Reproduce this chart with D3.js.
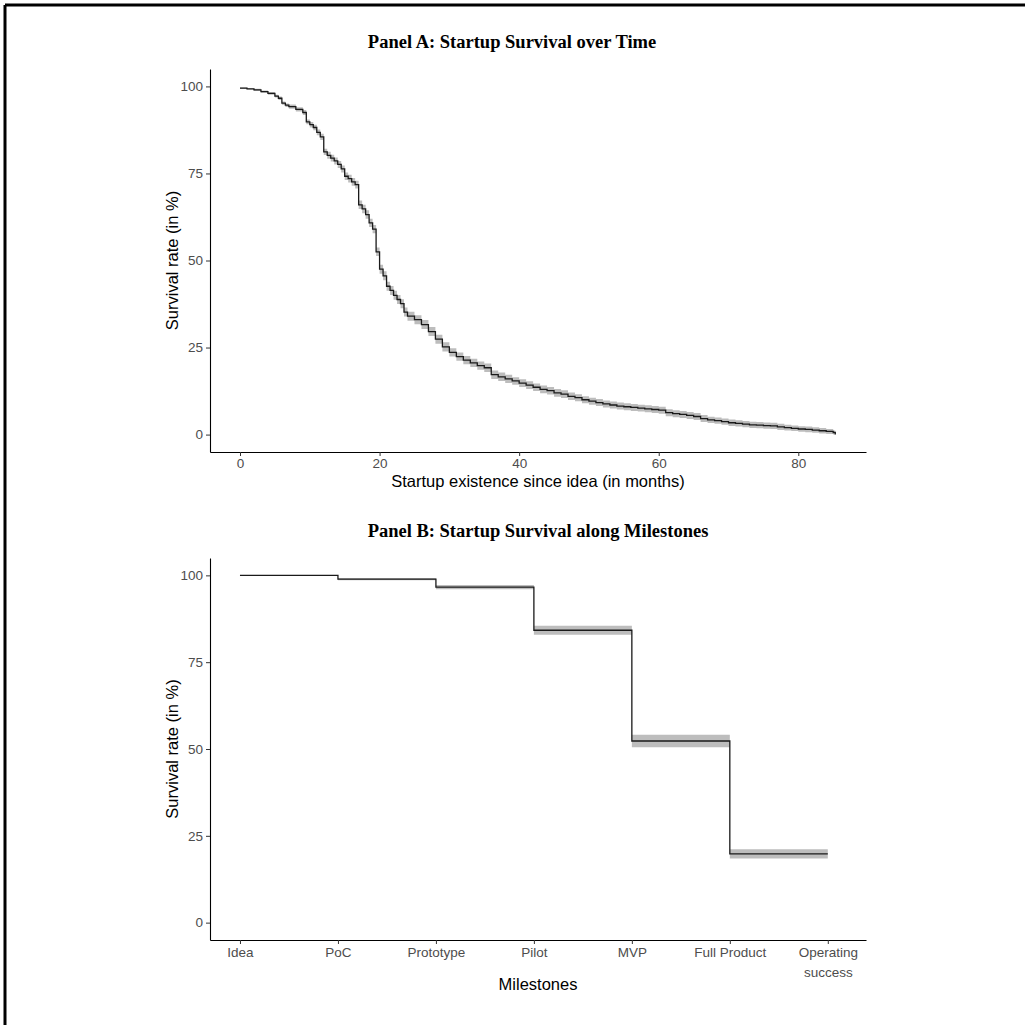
<!DOCTYPE html>
<html>
<head>
<meta charset="utf-8">
<script src="https://cdn.jsdelivr.net/npm/d3@7"></script>
<style>
  body { margin: 0; background: #fff; }
  svg { display: block; }
</style>
</head>
<body>
<svg id="chart" width="1025" height="1025"></svg>
<script>
// Panel A: survival by month since idea (Kaplan-Meier steps)
const monthTimes = [0, 1, 2, 3, 4, 5, 5.5, 6, 6.5, 7, 8, 9, 9.5, 10, 10.5, 11, 11.5, 12, 12.5, 13,
  13.5, 14, 14.5, 15, 15.5, 16, 16.5, 17, 17.5, 18, 18.5, 19, 19.5, 20, 20.5, 21, 21.5, 22, 22.5, 23,
  23.5, 24, 25, 26, 27, 28, 29, 30, 31, 32, 33, 34, 35, 36, 37, 38, 39, 40, 41, 42, 43, 44, 45, 46,
  47, 48, 49, 50, 51, 52, 53, 54, 55, 56, 57, 58, 59, 60, 61, 62, 63, 64, 65, 66, 67, 68, 69, 70,
  71, 72, 73, 74, 75, 76, 77, 78, 79, 80, 81, 82, 83, 84, 85, 85.3]
const monthSurvival = [99.5, 99.3, 99.0, 98.5, 98.0, 97.2, 96.6, 95.2, 94.6, 94.2, 93.4, 92.5, 89.8,
  89.0, 88.2, 86.8, 85.5, 81.2, 80.2, 79.4, 78.6, 77.6, 76.3, 74.2, 73.5, 72.6, 71.8, 66.0, 64.8,
  63.2, 60.8, 59.0, 52.5, 47.5, 45.6, 42.6, 41.4, 40.0, 38.8, 37.6, 35.2, 34.0, 33.0, 31.6, 29.6,
  27.4, 25.2, 23.6, 22.4, 21.4, 20.6, 19.8, 19.2, 17.2, 16.6, 16.0, 15.4, 14.8, 14.2, 13.6, 13.0,
  12.6, 12.0, 11.6, 11.0, 10.6, 10.0, 9.6, 9.2, 8.8, 8.5, 8.2, 8.0, 7.8, 7.6, 7.4, 7.2, 7.0, 6.3,
  6.0, 5.8, 5.5, 5.2, 4.6, 4.2, 4.0, 3.7, 3.4, 3.2, 3.0, 2.8, 2.7, 2.6, 2.5, 2.2, 2.0, 1.8, 1.6,
  1.5, 1.3, 1.1, 0.9, 0.6, 0.0]
const monthCiHalf = [0.2, 0.2, 0.3, 0.3, 0.4, 0.4, 0.5, 0.5, 0.5, 0.6, 0.6, 0.7, 0.7, 0.8, 0.8,
  0.8, 0.9, 0.9, 1.0, 1.0, 1.0, 1.0, 1.0, 1.1, 1.1, 1.1, 1.1, 1.2, 1.2, 1.2, 1.2, 1.2, 1.2, 1.3,
  1.3, 1.3, 1.3, 1.3, 1.3, 1.3, 1.3, 1.3, 1.3, 1.3, 1.3, 1.3, 1.3, 1.2, 1.2, 1.2, 1.2, 1.2, 1.2,
  1.2, 1.2, 1.2, 1.1, 1.1, 1.1, 1.1, 1.1, 1.1, 1.1, 1.1, 1.1, 1.0, 1.0, 1.0, 1.0, 1.0, 1.0, 1.0,
  1.0, 1.0, 1.0, 1.0, 1.0, 1.0, 1.0, 1.0, 1.0, 1.0, 1.0, 1.0, 0.9, 0.9, 0.9, 0.9, 0.9, 0.9, 0.9,
  0.9, 0.9, 0.9, 0.9, 0.8, 0.8, 0.8, 0.8, 0.8, 0.8, 0.7, 0.6, 0.5, 0.3]
const monthTicks = [0, 20, 40, 60, 80]

// Panel B: survival along milestones
const milestones = ['Idea', 'PoC', 'Prototype', 'Pilot', 'MVP', 'Full Product', 'Operating success']
const milestoneSurvival = [100, 98.9, 96.6, 84.2, 52.3, 19.8, 19.8]
const milestoneCiHalf = [0, 0.3, 0.6, 1.3, 1.8, 1.3, 1.3]

const yTicks = [0, 25, 50, 75, 100]

const svg = d3.select('#chart')
const axisFont = 'Liberation Sans, Arial, sans-serif'
const titleFont = 'Liberation Serif, DejaVu Serif, serif'
const bandFill = '#bdbdbd'

// outer frame (only left and top edges visible)
svg.append('line').attr('x1', 5).attr('x2', 5).attr('y1', 5).attr('y2', 1025)
    .attr('stroke', '#000').attr('stroke-width', 3)
svg.append('line').attr('x1', 5).attr('x2', 1025).attr('y1', 5).attr('y2', 5)
    .attr('stroke', '#000').attr('stroke-width', 3)

function styleAxis (g) {
    g.selectAll('.domain').attr('stroke', '#000').attr('stroke-width', 1.1)
    g.selectAll('.tick line').attr('stroke', '#333').attr('stroke-width', 1)
    g.selectAll('.tick text').attr('fill', '#4d4d4d')
        .style('font-family', axisFont).style('font-size', '13.5px')
}

function drawPanel (cfg) {
    const { top, bottom, left, right, x, title, titleX, xTitle, xTitleY } = cfg
    const y = d3.scaleLinear().domain([-5, 105]).range([bottom, top])

    const g = svg.append('g')

    // band
    g.append('path')
        .datum(cfg.data)
        .attr('fill', bandFill)
        .attr('d', d3.area()
            .curve(d3.curveStepAfter)
            .x(d => x(d.t))
            .y0(d => y(d.s - d.ci))
            .y1(d => y(d.s + d.ci)))

    // survival line
    g.append('path')
        .datum(cfg.data)
        .attr('fill', 'none')
        .attr('stroke', '#1a1a1a')
        .attr('stroke-width', 1.3)
        .attr('d', d3.line()
            .curve(d3.curveStepAfter)
            .x(d => x(d.t))
            .y(d => y(d.s)))

    const yAxis = g.append('g')
        .attr('transform', `translate(${left},0)`)
        .call(d3.axisLeft(y).tickValues(yTicks).tickSize(4).tickSizeOuter(0).tickPadding(3))
    styleAxis(yAxis)

    const xAxis = g.append('g')
        .attr('transform', `translate(0,${bottom})`)
        .call(cfg.xAxis(x).tickSizeOuter(0))
    styleAxis(xAxis)

    // titles
    svg.append('text')
        .attr('x', titleX).attr('y', top - 21)
        .attr('text-anchor', 'middle')
        .style('font-family', titleFont).style('font-weight', 'bold').style('font-size', '18.5px')
        .attr('fill', '#000')
        .text(title)

    svg.append('text')
        .attr('transform', `translate(${left - 32},${(top + bottom) / 2}) rotate(-90)`)
        .attr('text-anchor', 'middle')
        .style('font-family', axisFont).style('font-size', '16.5px')
        .attr('fill', '#000')
        .text('Survival rate (in %)')

    svg.append('text')
        .attr('x', (left + right) / 2).attr('y', xTitleY)
        .attr('text-anchor', 'middle')
        .style('font-family', axisFont).style('font-size', '16.5px')
        .attr('fill', '#000')
        .text(xTitle)

    return xAxis
}

// Panel A
const xA = d3.scaleLinear().domain([-4.3, 89.7]).range([210, 866])
const dataA = monthTimes.map((t, i) => ({ t, s: monthSurvival[i], ci: monthCiHalf[i] }))
drawPanel({
    top: 69, bottom: 452, left: 210, right: 866, x: xA,
    data: dataA,
    title: 'Panel A: Startup Survival over Time', titleX: 512,
    xTitle: 'Startup existence since idea (in months)', xTitleY: 487,
    xAxis: x => d3.axisBottom(x).tickValues(monthTicks).tickSize(4).tickPadding(2)
})

// Panel B
const xB = d3.scaleLinear().domain([-0.306, 6.39]).range([210, 866])
const dataB = milestones.map((m, i) => ({ t: i, s: milestoneSurvival[i], ci: milestoneCiHalf[i] }))
const xAxisB = drawPanel({
    top: 558, bottom: 940, left: 210, right: 866, x: xB,
    data: dataB,
    title: 'Panel B: Startup Survival along Milestones', titleX: 538,
    xTitle: 'Milestones', xTitleY: 990,
    xAxis: x => d3.axisBottom(x).tickValues(d3.range(milestones.length))
        .tickFormat(i => milestones[i]).tickSize(4).tickPadding(3)
})

// wrap "Operating success" over two lines
xAxisB.selectAll('.tick text').each(function (i) {
    if (milestones[i] === 'Operating success') {
        const t = d3.select(this)
        t.text(null)
        t.append('tspan').attr('x', 0).attr('dy', '0.71em').text('Operating')
        t.append('tspan').attr('x', 0).attr('dy', '1.5em').text('success')
        t.attr('dy', null)
    }
})
</script>
</body>
</html>
